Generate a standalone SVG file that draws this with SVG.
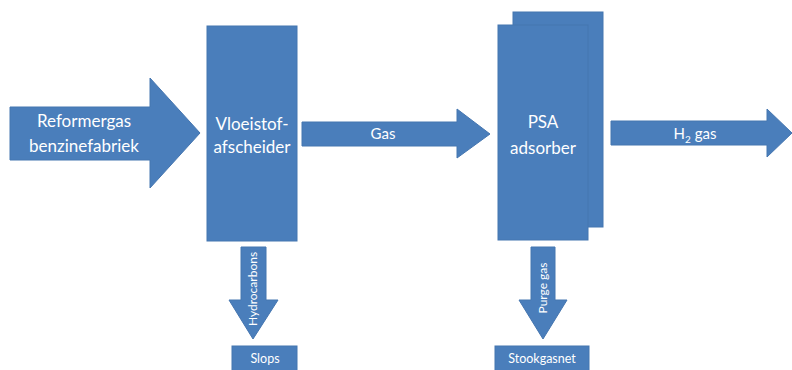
<svg xmlns="http://www.w3.org/2000/svg" width="792" height="370" viewBox="0 0 792 370">
<style>
.s{fill:#4a7ebb;stroke:#4576b0;stroke-width:1}
.t{font-family:Lato,"Liberation Sans",sans-serif;fill:#ffffff;text-anchor:middle}
.big{font-size:17px}
.mid{font-size:15px}
.sm{font-size:12.5px}
.rot{font-size:12px}
</style>
<rect width="792" height="370" fill="#ffffff"/>
<g id="connectors">
<g id="arrow-reformergas">
<polygon class="s" points="10,107 150,107 150,78 200,133 150,188 150,160 10,160"/>
<text class="t big" x="84" y="127">Reformergas</text>
<text class="t big" x="84" y="152">benzinefabriek</text>
</g>
<g id="arrow-gas">
<polygon class="s" points="302,122 457,122 457,109 490,134 457,158 457,146 302,146"/>
<text class="t mid" x="383" y="139">Gas</text>
</g>
<g id="arrow-h2">
<polygon class="s" points="611,121 767,121 767,109 792,133 767,157 767,145 611,145"/>
<text class="t mid" x="695" y="139">H<tspan font-size="10" dy="4">2</tspan><tspan dy="-4"> gas</tspan></text>
</g>
<g id="arrow-hydrocarbons">
<polygon class="s" points="241,247 266,247 266,300 278,300 253,339 229,300 241,300"/>
<text class="t rot" transform="translate(257,289) rotate(-90)">Hydrocarbons</text>
</g>
<g id="arrow-purge">
<polygon class="s" points="531,247 555,247 555,300 567,300 543,339 519,300 531,300"/>
<text class="t rot" transform="translate(547,288) rotate(-90)">Purge gas</text>
</g>
</g>
<g id="vloeistofafscheider">
<rect class="s" x="207" y="26" width="90" height="215"/>
<text class="t big" x="252" y="130">Vloeistof-</text>
<text class="t big" x="252" y="153">afscheider</text>
</g>
<g id="psa-adsorber">
<rect class="s" x="513" y="12" width="90" height="215"/>
<rect class="s" x="498" y="25" width="90" height="215"/>
<text class="t big" x="543" y="128">PSA</text>
<text class="t big" x="543" y="154">adsorber</text>
</g>
<g id="slops">
<rect class="s" x="232" y="346" width="65" height="26"/>
<text class="t sm" x="265" y="363">Slops</text>
</g>
<g id="stookgasnet">
<rect class="s" x="495" y="346" width="94" height="26"/>
<text class="t sm" x="542" y="363">Stookgasnet</text>
</g>
</svg>
